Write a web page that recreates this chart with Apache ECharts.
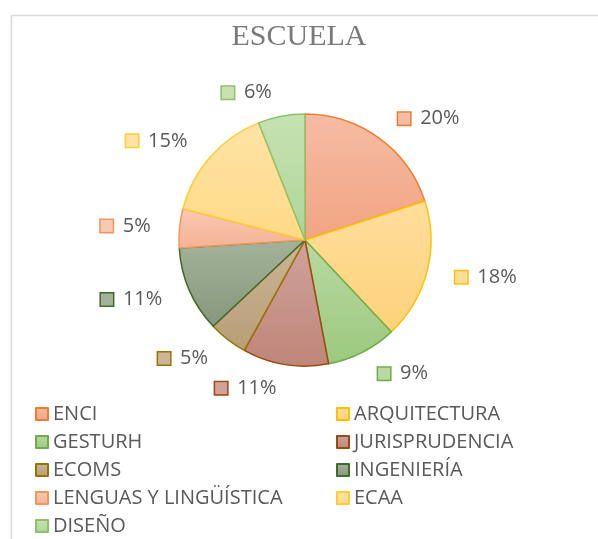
<!DOCTYPE html>
<html>
<head>
<meta charset="utf-8">
<script src="https://cdn.jsdelivr.net/npm/echarts@6/dist/echarts.min.js"></script>
<style>
    html, body { margin: 0; padding: 0; background: #fff; }
    #chart { width: 598px; height: 539px; }
</style>
</head>
<body>
<div id="chart"></div>
<script>
    // datos
    var escuelas = ['ENCI', 'ARQUITECTURA', 'GESTURH', 'JURISPRUDENCIA', 'ECOMS',
                    'INGENIERÍA', 'LENGUAS Y LINGÜÍSTICA', 'ECAA', 'DISEÑO'];
    var valores = [20, 18, 9, 11, 5, 11, 5, 15, 6];

    // relleno claro arriba / oscuro abajo, y color del borde (estilo Excel)
    var rellenoArriba = ['#F6BCA4', '#FFDE9C', '#B9D9A3', '#CFA39A', '#CBB596', '#A3B39B', '#F9C9B3', '#FFE3A6', '#C6E2B3'];
    var rellenoAbajo  = ['#F1A481', '#FDD17A', '#9CC97E', '#BF857A', '#B99E76', '#86977B', '#F5B294', '#FFD985', '#AED598'];
    var bordes        = ['#ED7D31', '#FFC000', '#70AD47', '#9E480E', '#997300', '#43682B', '#F1975A', '#FFCD33', '#8CC168'];

    var myChart = echarts.init(document.getElementById('chart'));

    var datos = [];
    for (var i = 0; i < escuelas.length; i++) {
        var grad = new echarts.graphic.LinearGradient(0, 0, 0, 1, [
            {offset: 0, color: rellenoArriba[i]},
            {offset: 1, color: rellenoAbajo[i]}
        ]);
        datos.push({
            name: escuelas[i],
            value: valores[i],
            itemStyle: {color: grad, borderColor: bordes[i], borderWidth: 1.5},
            label: {
                rich: {
                    sq: {
                        width: 12, height: 12,
                        backgroundColor: rellenoArriba[i],
                        borderColor: bordes[i],
                        borderWidth: 1.5
                    }
                }
            }
        });
    }

    var option = {
        backgroundColor: '#fff',
        animation: false,
        title: {
            text: 'ESCUELA',
            left: 'center',
            top: 17,
            textStyle: {
                fontFamily: 'Liberation Serif',
                fontWeight: 'normal',
                fontSize: 30,
                color: '#7a7a7a'
            }
        },
        graphic: [{
            type: 'rect',
            left: 9, top: 13,
            shape: {width: 620, height: 560},
            style: {fill: 'none', stroke: '#d9d9d9', lineWidth: 1.5},
            silent: true,
            z: -1
        }],
        legend: {
            data: escuelas,
            left: 35,
            top: 404,
            width: 620,
            padding: 0,
            orient: 'horizontal',
            icon: 'rect',
            itemWidth: 12,
            itemHeight: 12,
            itemGap: 8,
            textStyle: {
                fontFamily: 'Open Sans',
                fontSize: 20,
                color: '#595959',
                width: 275,
                lineHeight: 20
            }
        },
        series: [{
            type: 'pie',
            center: [305, 240],
            radius: 126,
            startAngle: 90,
            clockwise: true,
            data: datos,
            label: {
                show: true,
                position: 'outside',
                formatter: function (p) {
                    return '{sq|}   {t|' + p.value + '%}';
                },
                rich: {
                    t: {
                        fontFamily: 'Open Sans',
                        fontSize: 20,
                        color: '#595959'
                    }
                }
            },
            labelLine: {show: false, length: 24, length2: 0},
            emphasis: {disabled: true}
        }]
    };

    myChart.setOption(option);
</script>
</body>
</html>
